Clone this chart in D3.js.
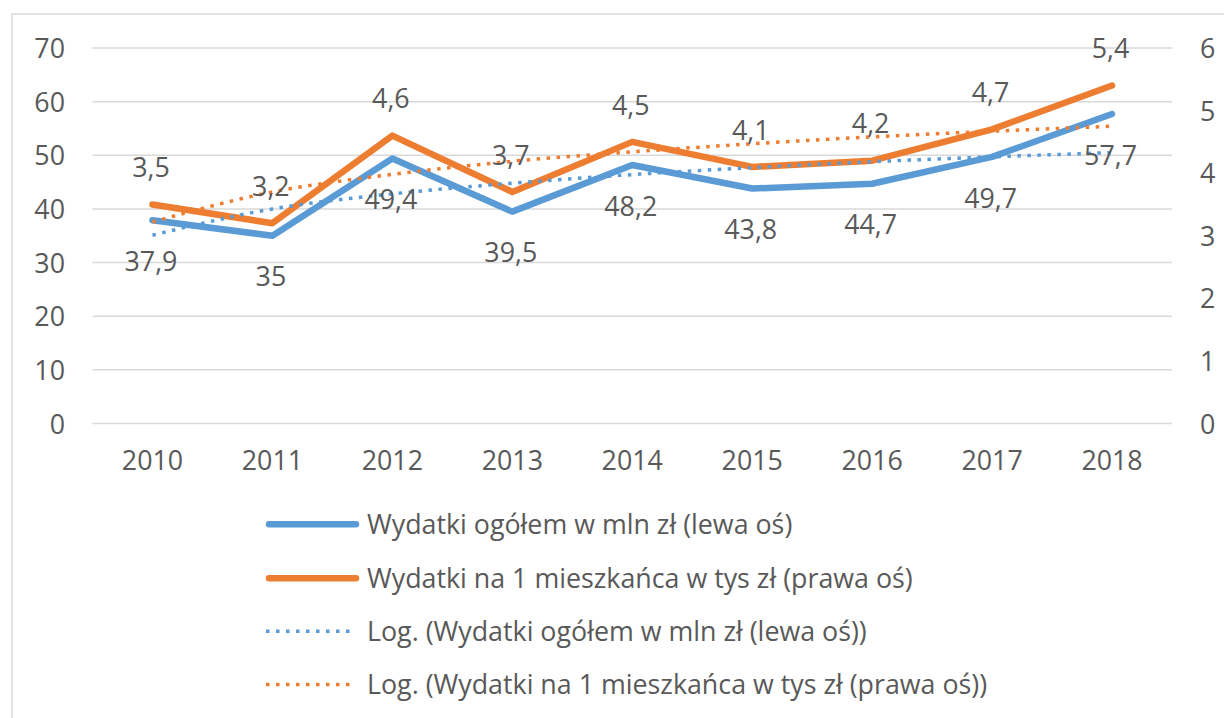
<!DOCTYPE html>
<html>
<head>
<meta charset="utf-8">
<script src="https://cdn.jsdelivr.net/npm/d3@7"></script>
<style>
  body { margin: 0; background: #fff; }
  svg text { font-family: "Open Sans", sans-serif; fill: #595959; }
</style>
</head>
<body>
<div id="chart"></div>
<script>
// values
var years = ['2010', '2011', '2012', '2013', '2014', '2015', '2016', '2017', '2018'];
var totalSpend = [37.9, 35, 49.4, 39.5, 48.2, 43.8, 44.7, 49.7, 57.7];
var perCapita = [3.5, 3.2, 4.6, 3.7, 4.5, 4.1, 4.2, 4.7, 5.4];
var totalTrend = [35.1, 40.0, 42.8, 44.8, 46.4, 47.7, 48.8, 49.7, 50.5];
var perCapitaTrend = [3.22, 3.70, 3.98, 4.19, 4.34, 4.47, 4.58, 4.67, 4.75];
var leftTicks = [0, 10, 20, 30, 40, 50, 60, 70];
var rightTicks = [0, 1, 2, 3, 4, 5, 6];
var legendLabels = [
  'Wydatki ogółem w mln zł (lewa oś)',
  'Wydatki na 1 mieszkańca w tys zł (prawa oś)',
  'Log. (Wydatki ogółem w mln zł (lewa oś))',
  'Log. (Wydatki na 1 mieszkańca w tys zł (prawa oś))'
];

var W = 1224, H = 718;
var plot = {left: 92.5, right: 1172, top: 48, bottom: 423.5};
var blue = '#5B9BD5', orange = '#ED7D31';
var fontSize = 26.8;

var svg = d3.select('#chart').append('svg')
    .attr('width', W)
    .attr('height', H);

// chart frame (runs past the picture on the right and bottom)
svg.append('rect')
    .attr('x', 12).attr('y', 14)
    .attr('width', W + 20).attr('height', H + 20)
    .attr('fill', 'none')
    .attr('stroke', '#D9D9D9')
    .attr('stroke-width', 1.5);

var x = d3.scaleBand().domain(years).range([plot.left, plot.right]);
var cx = function(d) { return x(d) + x.bandwidth() / 2; };
var yL = d3.scaleLinear().domain([0, 70]).range([plot.bottom, plot.top]);
var yR = d3.scaleLinear().domain([0, 6]).range([plot.bottom, plot.top]);

// gridlines
svg.append('g').selectAll('line').data(leftTicks).join('line')
    .attr('x1', plot.left).attr('x2', plot.right)
    .attr('y1', function(d) { return yL(d); })
    .attr('y2', function(d) { return yL(d); })
    .attr('stroke', '#D9D9D9')
    .attr('stroke-width', 1.5);

var leftAxis = svg.append('g')
    .attr('transform', 'translate(' + plot.left + ',0)')
    .call(d3.axisLeft(yL).tickValues(leftTicks).tickSize(0).tickPadding(27.5)
      .tickFormat(d3.format('d')));

var rightAxis = svg.append('g')
    .attr('transform', 'translate(' + plot.right + ',0)')
    .call(d3.axisRight(yR).tickValues(rightTicks).tickSize(0).tickPadding(28)
      .tickFormat(d3.format('d')));

var bottomAxis = svg.append('g')
    .attr('transform', 'translate(0,' + plot.bottom + ')')
    .call(d3.axisBottom(x).tickSize(0).tickPadding(27));

[leftAxis, rightAxis, bottomAxis].forEach(function(a) {
  a.select('.domain').remove();
  a.selectAll('text')
    .style('font-family', '"Open Sans", sans-serif')
    .style('font-size', fontSize + 'px')
    .attr('fill', '#595959');
});
leftAxis.selectAll('text').attr('dy', '0.36em');
rightAxis.selectAll('text').attr('dy', '0.36em');

function lineFor(scale, curve) {
  return d3.line()
    .x(function(d, i) { return cx(years[i]); })
    .y(function(d) { return scale(d); })
    .curve(curve || d3.curveLinear);
}

// series
svg.append('path').datum(totalSpend)
    .attr('d', lineFor(yL))
    .attr('fill', 'none').attr('stroke', blue)
    .attr('stroke-width', 6.5)
    .attr('stroke-linejoin', 'round').attr('stroke-linecap', 'round');

svg.append('path').datum(perCapita)
    .attr('d', lineFor(yR))
    .attr('fill', 'none').attr('stroke', orange)
    .attr('stroke-width', 6.5)
    .attr('stroke-linejoin', 'round').attr('stroke-linecap', 'round');

// log trendlines
svg.append('path').datum(totalTrend)
    .attr('d', lineFor(yL, d3.curveMonotoneX))
    .attr('fill', 'none').attr('stroke', blue)
    .attr('stroke-width', 3.5)
    .attr('stroke-dasharray', '3.5 6.5');

svg.append('path').datum(perCapitaTrend)
    .attr('d', lineFor(yR, d3.curveMonotoneX))
    .attr('fill', 'none').attr('stroke', orange)
    .attr('stroke-width', 3.5)
    .attr('stroke-dasharray', '3.5 6.5');

// data labels: totals below the point, per capita above
svg.append('g').selectAll('text').data(totalSpend).join('text')
    .attr('x', function(d, i) { return cx(years[i]) - 1.5; })
    .attr('y', function(d) { return yL(d) + 41; })
    .attr('dy', '0.36em')
    .attr('text-anchor', 'middle')
    .style('font-size', fontSize + 'px')
    .text(function(d) { return String(d).replace('.', ','); });

svg.append('g').selectAll('text').data(perCapita).join('text')
    .attr('x', function(d, i) { return cx(years[i]) - 1.5; })
    .attr('y', function(d) { return yR(d) - 37; })
    .attr('dy', '0.36em')
    .attr('text-anchor', 'middle')
    .style('font-size', fontSize + 'px')
    .text(function(d) { return String(d).replace('.', ','); });

// legend
var legendRows = [524.3, 578.3, 631.3, 684.5];
var legendStyles = [
  {color: blue, width: 6.5, dash: null},
  {color: orange, width: 6.5, dash: null},
  {color: blue, width: 3.5, dash: '3.5 6.5'},
  {color: orange, width: 3.5, dash: '3.5 6.5'}
];
var legend = svg.append('g').selectAll('g').data(legendLabels).join('g')
    .attr('transform', function(d, i) { return 'translate(0,' + legendRows[i] + ')'; });

legend.append('line')
    .attr('x1', function(d, i) { return legendStyles[i].dash ? 266 : 269; })
    .attr('x2', function(d, i) { return legendStyles[i].dash ? 352 : 356; })
    .attr('stroke', function(d, i) { return legendStyles[i].color; })
    .attr('stroke-width', function(d, i) { return legendStyles[i].width; })
    .attr('stroke-linecap', function(d, i) { return legendStyles[i].dash ? 'butt' : 'round'; })
    .attr('stroke-dasharray', function(d, i) { return legendStyles[i].dash; });

legend.append('text')
    .attr('x', 367)
    .attr('dy', '0.36em')
    .style('font-size', fontSize + 'px')
    .text(function(d) { return d; });
</script>
</body>
</html>
